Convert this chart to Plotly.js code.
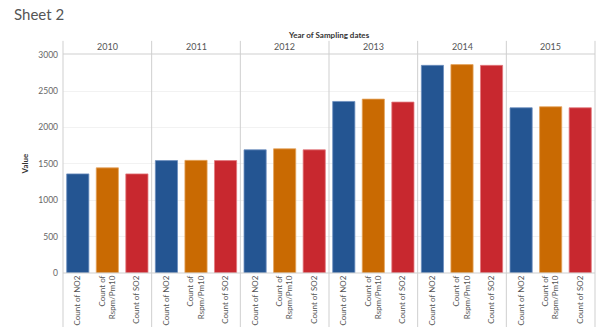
<!DOCTYPE html>
<html><head><meta charset="utf-8">
<script src="https://cdn.plot.ly/plotly-3.0.1.min.js"></script>
<style>html,body{margin:0;padding:0;background:#fff}#chart{width:598px;height:327px}</style>
</head><body><div id="chart"></div>
<script>
const years = ['2010','2011','2012','2013','2014','2015'];
const measures = ['Count of NO2','Count of Rspm/Pm10','Count of SO2'];
const measureLabels = ['Count of NO2','Count of<br>Rspm/Pm10','Count of SO2'];
const no2  = [1362,1545,1693,2358,2854,2271];
const rspm = [1445,1548,1707,2390,2864,2285];
const so2  = [1362,1545,1693,2349,2854,2271];
const colors = ['#245592','#c96a02','#c8282f'];
const edge = ['#6d8fbf','#e4a45e','#e27a7f'];

const FONT = 'Lato, "Open Sans", sans-serif';
const n = years.length;
const traces = [];
const layout = {
  width:598, height:327,
  margin:{l:63, r:3, t:54, b:54},
  paper_bgcolor:'#fff', plot_bgcolor:'#fff',
  showlegend:false, bargap:0.25,
  font:{family:FONT, color:'#555'},
  title:{text:'Sheet 2', x:14/598, xanchor:'left', y:0.955, yanchor:'middle', pad:{l:0,r:0,t:0,b:0},
         font:{family:FONT, size:15, color:'#555'}},
  yaxis:{range:[0,3010], dtick:500, showgrid:true, gridcolor:'#f2f2f2', zeroline:false,
         showline:false, ticks:'', tickfont:{size:8.5, color:'#666', family:FONT},
         ticklabelstandoff:4,
         title:{text:'<b>Value</b>', font:{size:8, color:'#333', family:FONT}, standoff:8}},
  shapes:[], annotations:[]
};
const lineC = '#cfcfcf';
for (let i=0;i<n;i++){
  const ax = i===0 ? 'x' : 'x'+(i+1);
  const key = i===0 ? 'xaxis' : 'xaxis'+(i+1);
  traces.push({type:'bar', x:measures, y:[no2[i], rspm[i], so2[i]], xaxis:ax, yaxis:'y',
    marker:{color:colors, line:{color:edge, width:0.8}}, hoverinfo:'x+y'});
  layout[key] = {domain:[i/n,(i+1)/n], anchor:'y', type:'category', range:[-0.5,2.5],
    tickvals:measures, ticktext:measureLabels, tickangle:-90, ticks:'', showgrid:false,
    zeroline:false, showline:false, tickfont:{size:8, color:'#555', family:FONT}};
  layout.annotations.push({xref:'paper', yref:'paper', x:(i+0.5)/n, y:1.032, text:years[i],
    showarrow:false, xanchor:'center', yanchor:'middle', font:{size:9, color:'#555', family:FONT}});
}
for (let i=0;i<=n;i++){
  layout.shapes.push({type:'line', xref:'paper', yref:'paper', x0:i/n, x1:i/n, y0:-0.26, y1:1.06,
    line:{color:lineC, width:1}});
}
layout.shapes.push({type:'line', xref:'paper', yref:'paper', x0:0, x1:1, y0:1, y1:1, line:{color:lineC, width:1}});
layout.shapes.push({type:'line', xref:'paper', yref:'paper', x0:0, x1:1, y0:0, y1:0, line:{color:lineC, width:1}});
layout.annotations.push({xref:'paper', yref:'paper', x:0.5, y:1.087, text:'<b>Year of Sampling dates</b>',
  showarrow:false, xanchor:'center', yanchor:'middle', font:{size:8, color:'#333', family:FONT}});
Plotly.newPlot('chart', traces, layout, {displayModeBar:false, staticPlot:true});
</script></body></html>
